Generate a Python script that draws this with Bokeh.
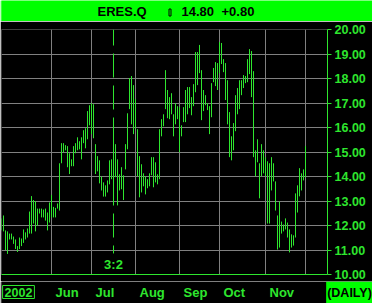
from bokeh.plotting import figure
from bokeh.layouts import column
from bokeh.models import Range1d, FixedTicker, Label, ColumnDataSource
from bokeh.embed import file_html
from bokeh.resources import INLINE

# ---------------- data ----------------
symbol = "ERES.Q"
last_price = "14.80"
net_change = "+0.80"
period_label = "(DAILY)"
year_label = "2002"
split_label = "3:2"
split_index = 56

highs = [12.29, 12.41, 11.80, 11.76, 11.67, 11.67, 11.55, 11.43, 11.16, 11.51,
         11.47, 11.84, 11.72, 11.88, 12.57, 13.20, 13.04, 13.00, 12.69, 12.69,
         12.69, 12.65, 12.69, 12.53, 12.94, 13.25, 12.76, 12.72, 12.90, 14.54,
         15.36, 15.36, 15.28, 15.24, 14.95, 14.70, 15.24, 15.36, 15.60, 15.44,
         15.60, 15.89, 15.97, 16.67, 16.91, 16.99, 16.95, 15.32, 14.83, 14.66,
         14.00, 13.76, 13.64, 13.84, 14.66, 14.70, 15.69, 15.32, 14.70, 14.09,
         14.38, 14.05, 15.32, 16.58, 18.02, 18.10, 17.73, 17.16, 15.93, 14.83,
         14.50, 14.13, 14.01, 13.89, 14.13, 14.79, 14.79, 14.58, 14.09, 15.93,
         16.34, 16.54, 18.34, 17.53, 17.24, 17.40, 16.54, 16.99, 16.87, 16.83,
         16.09, 16.83, 17.53, 17.65, 17.65, 17.24, 17.77, 19.08, 19.08, 19.37,
         18.34, 17.53, 17.32, 16.99, 16.87, 17.81, 18.43, 18.67, 18.63, 19.49,
         19.45, 18.79, 18.63, 17.93, 16.63, 15.64, 16.18, 17.32, 17.61, 17.93,
         17.93, 18.14, 18.10, 18.79, 19.20, 19.12, 18.30, 15.07, 15.52, 14.54,
         15.32, 15.07, 14.79, 14.62, 14.54, 14.79, 14.54, 13.80, 12.41, 12.98,
         12.16, 12.04, 12.29, 12.12, 11.84, 11.64, 11.60, 13.31, 13.64, 14.34,
         14.13, 14.29, 15.24]

lows = [11.80, 11.76, 11.00, 10.84, 11.43, 11.43, 11.25, 11.04, 10.92, 11.04,
        11.16, 11.29, 11.43, 11.51, 11.67, 11.67, 12.08, 11.76, 12.00, 12.49,
        12.33, 12.33, 12.20, 11.80, 12.12, 12.33, 12.33, 12.33, 12.69, 12.61,
        14.54, 14.99, 15.07, 14.38, 14.10, 14.42, 14.42, 14.95, 15.07, 15.11,
        14.70, 15.36, 15.15, 15.52, 16.09, 15.73, 15.56, 14.10, 14.21, 13.72,
        13.43, 13.18, 13.18, 13.35, 13.68, 13.89, 13.76, 13.97, 12.82, 13.43,
        13.48, 13.04, 14.29, 15.11, 16.75, 16.13, 15.73, 15.93, 14.01, 13.15,
        13.35, 13.60, 13.27, 13.52, 13.60, 14.05, 13.56, 13.76, 13.68, 13.89,
        15.64, 16.05, 16.75, 16.38, 16.34, 16.54, 15.64, 16.13, 16.34, 14.99,
        15.64, 16.22, 16.22, 16.54, 16.79, 16.50, 16.87, 17.44, 17.73, 18.22,
        16.30, 16.67, 16.91, 16.71, 15.73, 16.42, 17.85, 17.69, 17.53, 18.22,
        18.59, 18.26, 17.12, 16.13, 14.79, 14.66, 15.07, 15.85, 16.54, 16.75,
        17.32, 17.61, 17.81, 17.85, 18.18, 17.24, 14.79, 14.01, 14.58, 13.11,
        14.01, 14.13, 14.01, 12.08, 12.08, 13.43, 13.80, 12.61, 11.02, 11.10,
        11.67, 11.76, 11.84, 11.51, 10.90, 11.10, 11.18, 11.51, 12.53, 13.19,
        13.43, 13.84, 13.97]

month_names = ["Jun", "Jul", "Aug", "Sep", "Oct", "Nov"]
month_start_index = [25, 45, 67, 89, 109, 132]
grid_index = [0, 25, 45, 67, 89, 109, 132, 152]
y_ticks = [10, 11, 12, 13, 14, 15, 16, 17, 18, 19, 20]
y_tick_labels = ["10.00", "11.00", "12.00", "13.00", "14.00", "15.00",
                 "16.00", "17.00", "18.00", "19.00", "20.00"]

# ---------------- style ----------------
GREEN = "#2ee62e"
BRIGHT = "#00ff00"
GRID = "#808080"
FONT = "Liberation Sans"
SPLIT_LINE_END = 10.86
X_START, X_END = 0, 163          # 2 px per trading day over a 326 px frame
LABEL_SHIFT = 1.5                # month label starts 3 px right of its grid line


def bare(fig):
    fig.axis.visible = False
    fig.grid.visible = False


# ---------------- title bar ----------------
t = figure(frame_width=372, frame_height=21, x_range=Range1d(0, 372), y_range=Range1d(0, 21),
           output_backend="svg", toolbar_location=None,
           min_border_left=0, min_border_right=0, min_border_top=0, min_border_bottom=0,
           background_fill_color=BRIGHT, border_fill_color=BRIGHT, outline_line_color=None)
bare(t)
for txt, xpos in [(symbol, 96), (last_price, 180), (net_change, 220)]:
    t.add_layout(Label(x=xpos, y=10, x_units="screen", y_units="screen", text=txt,
                       text_font=FONT, text_font_style="bold", text_font_size="13px",
                       text_color="black", text_baseline="middle", text_align="left"))
t.quad(left=[167.5], right=[169.5], bottom=[5.5], top=[12.5], fill_color=None,
       line_color="black", line_width=1)

# ---------------- main chart ----------------
n = len(highs)
src = ColumnDataSource(dict(x=list(range(n)), hi=highs, lo=lows))

p = figure(frame_width=326, frame_height=245,
           x_range=Range1d(X_START, X_END), y_range=Range1d(10, 20),
           output_backend="svg", toolbar_location=None,
           min_border_left=1, min_border_right=45, min_border_top=8, min_border_bottom=7,
           background_fill_color="black", border_fill_color="black",
           outline_line_color=None, y_axis_location="right")

p.xgrid.ticker = FixedTicker(ticks=grid_index)
p.ygrid.ticker = FixedTicker(ticks=y_ticks)
for g in (p.xgrid[0], p.ygrid[0]):
    g.grid_line_color = GRID
    g.grid_line_width = 1

# bottom axis: only its green line (month names are drawn in the strip below)
xa = p.xaxis[0]
xa.ticker = FixedTicker(ticks=[])
xa.axis_line_color = GREEN
xa.major_tick_line_color = None
xa.minor_tick_line_color = None
xa.major_tick_out = 0
xa.major_tick_in = 0
xa.major_label_standoff = 0
xa.major_label_text_font_size = "1px"

ya = p.yaxis[0]
ya.ticker = FixedTicker(ticks=y_ticks)
ya.major_label_overrides = {v: s for v, s in zip(y_ticks, y_tick_labels)}
ya.axis_line_color = GREEN
ya.major_tick_line_color = GREEN
ya.major_tick_out = 4
ya.major_tick_in = 0
ya.minor_tick_line_color = None
ya.major_label_standoff = 3
ya.major_label_text_color = GREEN
ya.major_label_text_font = FONT
ya.major_label_text_font_style = "bold"
ya.major_label_text_font_size = "12.5px"

p.segment(x0="x", y0="lo", x1="x", y1="hi", source=src, line_color=GREEN, line_width=1)

p.segment(x0=[split_index], y0=[20], x1=[split_index], y1=[SPLIT_LINE_END],
          line_color=GREEN, line_width=1, line_dash="24 8", line_dash_offset=8)
p.add_layout(Label(x=split_index, y=10, x_units="data", y_units="screen", text=split_label,
                   text_font=FONT, text_font_style="bold", text_font_size="13px",
                   text_color=GREEN, text_align="center", text_baseline="middle"))

# ---------------- bottom strip (time axis labels) ----------------
b = figure(frame_width=372, frame_height=22,
           x_range=Range1d(X_START - 0.5, X_START - 0.5 + 186), y_range=Range1d(0, 22),
           output_backend="svg", toolbar_location=None,
           min_border_left=0, min_border_right=0, min_border_top=0, min_border_bottom=0,
           background_fill_color="black", border_fill_color="black", outline_line_color=None)
bare(b)
b.text(x=[m + LABEL_SHIFT for m in month_start_index], y=[11.5] * len(month_names),
       text=month_names, text_color=GREEN, text_font_size="13px",
       text_font_style="bold", text_align="left", text_baseline="middle",
       text_font={"value": FONT})
b.add_layout(Label(x=17, y=11.5, x_units="screen", y_units="screen", text=year_label,
                   text_font=FONT, text_font_style="bold", text_font_size="12.5px",
                   text_color=GREEN, text_align="center", text_baseline="middle",
                   border_line_color=GREEN, border_line_width=1,
                   padding=dict(left=2, right=2, top=2, bottom=2)))
b.add_layout(Label(x=348, y=11, x_units="screen", y_units="screen", text=period_label,
                   text_font=FONT, text_font_style="bold", text_font_size="12.5px",
                   text_color="black", text_align="center", text_baseline="middle",
                   background_fill_color=BRIGHT,
                   padding=dict(left=1, right=1, top=4, bottom=4)))

layout = column(t, p, b, spacing=0)
open("out.html", "w").write(file_html(layout, INLINE))
